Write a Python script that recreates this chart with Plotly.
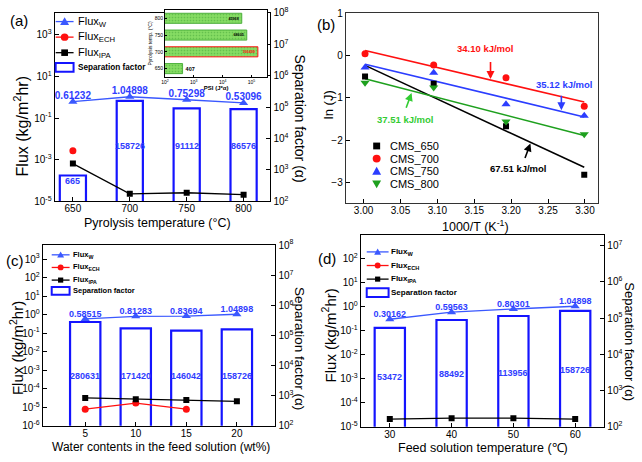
import numpy as np
import plotly.graph_objects as go

# ---------------- data ----------------
# (a) pyrolysis temperature
pyro_temp = [650, 700, 750, 800]
a_flux_w = [0.61232, 1.04898, 0.75298, 0.53096]
a_flux_ech = [2.7e-3, None, None, None]
a_flux_ipa = [6.5e-4, 2.3e-5, 2.6e-5, 2.1e-5]
a_sep = [665, 158726, 91112, 86576]
# inset of (a): PSI
psi_temp = ["650", "700", "750", "800"]
psi_vals = [407, 166499, 68605, 45968]
# (b) Arrhenius plot
inv_T = [3.002, 3.095, 3.193, 3.299]
lnJ_650 = [-0.49, -0.66, -1.67, -2.82]
lnJ_700 = [0.048, -0.219, -0.518, -1.199]
lnJ_750 = [-0.28, -0.40, -1.15, -1.42]
lnJ_800 = [-0.64, -0.75, -1.56, -1.86]
ea_650, ea_700, ea_750, ea_800 = "67.51 kJ/mol", "34.10 kJ/mol", "35.12 kJ/mol", "37.51 kJ/mol"
# (c) water content
water = [5, 10, 15, 20]
c_flux_w = [0.58515, 0.81283, 0.83694, 1.04898]
c_flux_ech = [8e-6, 1.7e-5, 8e-6, None]
c_flux_ipa = [3.2e-5, 2.7e-5, 2.5e-5, 2.1e-5]
c_sep = [280631, 171420, 146042, 158726]
# (d) feed temperature
feed_temp = [30, 40, 50, 60]
d_flux_w = [0.30162, 0.59563, 0.80301, 1.04898]
d_flux_ech = [None, None, None, None]
d_flux_ipa = [2.1e-5, 2.3e-5, 2.3e-5, 2.1e-5]
d_sep = [53472, 88492, 113956, 158726]

# ---------------- style ----------------
FONT = "Liberation Sans, Arial, sans-serif"
W, H = 642, 462
def px(x): return x / W
def py(y): return 1 - y / H

BLUE_BAR = "#1414ff"
BLUE_LINE = "#3a58ff"
BLUE_TXT = "#2f3dff"
BLUE_B = "#2b3dff"
RED = "#ff1010"
GREEN = "#1ea01e"
GREEN_TXT = "#33cc33"

def sup(n):
    return "10<sup>%d</sup>" % n

fig = go.Figure()
annotations = []
shapes = []

def flux_panel(x, w, ech, ipa, sep, xa, ya_sep, ya_flux, barwidth, wfont):
    fig.add_bar(x=x, y=sep, xaxis=xa, yaxis=ya_sep, width=barwidth,
                marker=dict(color="white", line=dict(color=BLUE_BAR, width=2.2)),
                name="Separation factor", showlegend=False)
    fig.add_scatter(x=x, y=w, xaxis=xa, yaxis=ya_flux, mode="lines+markers",
                    line=dict(color=BLUE_LINE, width=1.3),
                    marker=dict(symbol="triangle-up", size=8, color=BLUE_LINE),
                    name="Flux<sub>W</sub>", showlegend=False)
    fig.add_scatter(x=x, y=ech, xaxis=xa, yaxis=ya_flux, mode="lines+markers",
                    line=dict(color=RED, width=1.3),
                    marker=dict(symbol="circle", size=7, color=RED),
                    name="Flux<sub>ECH</sub>", showlegend=False)
    fig.add_scatter(x=x, y=ipa, xaxis=xa, yaxis=ya_flux, mode="lines+markers",
                    line=dict(color="black", width=1.3),
                    marker=dict(symbol="square", size=6, color="black"),
                    name="Flux<sub>IPA</sub>", showlegend=False)
    fig.add_scatter(x=x, y=w, xaxis=xa, yaxis=ya_flux, mode="text",
                    text=[str(v) for v in w], textposition="top center",
                    textfont=dict(color=BLUE_TXT, size=wfont, family=FONT, weight="bold"),
                    showlegend=False, cliponaxis=False)

flux_panel(pyro_temp, a_flux_w, a_flux_ech, a_flux_ipa, a_sep, "x", "y", "y2", 23, 10)
flux_panel(water, c_flux_w, c_flux_ech, c_flux_ipa, c_sep, "x3", "y4", "y5", 3.0, 9)
flux_panel(feed_temp, d_flux_w, d_flux_ech, d_flux_ipa, d_sep, "x4", "y6", "y7", 4.9, 9)

# bar value labels
for xs, vals, xa, ya, yv in [(pyro_temp, a_sep, "x", "y", [2.65, 3.76, 3.76, 3.76]),
                             (water, c_sep, "x3", "y4", [3.65] * 4),
                             (feed_temp, d_sep, "x4", "y6", [3.38, 3.45, 3.48, 3.56])]:
    for xv, v, yy in zip(xs, vals, yv):
        annotations.append(dict(x=xv, y=yy, xref=xa, yref=ya, text=str(v), showarrow=False,
                                font=dict(color=BLUE_TXT, size=9, family=FONT, weight="bold")))

# inset PSI bars
fig.add_bar(x=psi_vals, y=psi_temp, orientation="h", xaxis="x5", yaxis="y8", width=0.6,
            marker=dict(color="#86dc63",
                        pattern=dict(shape=".", fgcolor="#3f9f35", size=3, solidity=0.25),
                        line=dict(color=["#4caf3c", RED, "#4caf3c", "#4caf3c"], width=1)),
            text=[str(v) for v in psi_vals], textposition=["outside", "inside", "inside", "inside"],
            insidetextanchor="end", textangle=0,
            textfont=dict(size=5.5, color=["black", RED, "black", "black"], family=FONT, weight="bold"),
            showlegend=False, cliponaxis=False, name="PSI")

# (b) Arrhenius
series_b = [("CMS_650", lnJ_650, "black", "square", 6),
            ("CMS_700", lnJ_700, RED, "circle", 7),
            ("CMS_750", lnJ_750, BLUE_B, "triangle-up", 8),
            ("CMS_800", lnJ_800, GREEN, "triangle-down", 8)]
xfit = np.array([min(inv_T), max(inv_T)])
for name, ys, col, sym, sz in series_b:
    k, b0 = np.polyfit(inv_T, ys, 1)
    fig.add_scatter(x=xfit, y=k * xfit + b0, xaxis="x2", yaxis="y3", mode="lines",
                    line=dict(color=col, width=1.6), showlegend=False, name=name + " fit")
for name, ys, col, sym, sz in series_b:
    fig.add_scatter(x=inv_T, y=ys, xaxis="x2", yaxis="y3", mode="markers",
                    marker=dict(symbol=sym, size=sz, color=col), name=name, showlegend=False)

# Ea labels and arrows (b)
ea_specs = [(ea_700, RED, 3.165, 0.18, (3.172, -0.11), (3.172, -0.55)),
            (ea_750, BLUE_B, 3.272, -0.68, (3.268, -0.91), (3.268, -1.29)),
            (ea_800, GREEN_TXT, 3.057, -1.52, (3.057, -1.27), (3.065, -0.88)),
            (ea_650, "black", 3.210, -2.67, (3.218, -2.46), (3.226, -2.08))]
for txt, col, tx, ty, tail, head in ea_specs:
    annotations.append(dict(x=tx, y=ty, xref="x2", yref="y3", text=txt, showarrow=False,
                            font=dict(color=col, size=9.5, family=FONT, weight="bold")))
    annotations.append(dict(x=head[0], y=head[1], ax=tail[0], ay=tail[1], xref="x2", yref="y3",
                            axref="x2", ayref="y3", text="", showarrow=True, arrowhead=2,
                            arrowsize=1, arrowwidth=1.6, arrowcolor=col))

# ---------------- legend keys (drawn as layout decorations) ----------------
def key_marker(kind, cx, cy, s, col):
    if kind == "triangle-up":
        path = "M %f,%f L %f,%f L %f,%f Z" % (px(cx - s / 2), py(cy + s * 0.4), px(cx + s / 2), py(cy + s * 0.4),
                                               px(cx), py(cy - s * 0.5))
        shapes.append(dict(type="path", xref="paper", yref="paper", path=path, fillcolor=col, line=dict(width=0)))
    elif kind == "triangle-down":
        path = "M %f,%f L %f,%f L %f,%f Z" % (px(cx - s / 2), py(cy - s * 0.4), px(cx + s / 2), py(cy - s * 0.4),
                                               px(cx), py(cy + s * 0.5))
        shapes.append(dict(type="path", xref="paper", yref="paper", path=path, fillcolor=col, line=dict(width=0)))
    elif kind == "circle":
        shapes.append(dict(type="circle", xref="paper", yref="paper", x0=px(cx - s / 2), x1=px(cx + s / 2),
                           y0=py(cy + s / 2), y1=py(cy - s / 2), fillcolor=col, line=dict(width=0)))
    elif kind == "square":
        shapes.append(dict(type="rect", xref="paper", yref="paper", x0=px(cx - s / 2), x1=px(cx + s / 2),
                           y0=py(cy + s / 2), y1=py(cy - s / 2), fillcolor=col, line=dict(width=0)))

def key_text(x, y, text, size, bold=False, col="black"):
    annotations.append(dict(x=px(x), y=py(y), xref="paper", yref="paper", text=text, showarrow=False,
                            xanchor="left", yanchor="middle",
                            font=dict(size=size, family=FONT, color=col, weight="bold" if bold else "normal")))

flux_keys = [("Flux<sub>W</sub>", BLUE_LINE, "triangle-up"),
             ("Flux<sub>ECH</sub>", RED, "circle"),
             ("Flux<sub>IPA</sub>", "black", "square")]
msz = {"triangle-up": 1.0, "circle": 0.85, "square": 0.75}

def flux_legend(x0, x1, xt, rows, fsize, sfsize, bold, ms, rect_h):
    for (lab, col, sym), yy in zip(flux_keys, rows[:3]):
        shapes.append(dict(type="line", xref="paper", yref="paper", x0=px(x0), x1=px(x1),
                           y0=py(yy), y1=py(yy), line=dict(color=col, width=1.3)))
        key_marker(sym, (x0 + x1) / 2, yy, ms * msz[sym], col)
        key_text(xt, yy, lab, fsize, bold)
    yy = rows[3]
    shapes.append(dict(type="rect", xref="paper", yref="paper", x0=px(x0), x1=px(x1),
                       y0=py(yy + rect_h / 2), y1=py(yy - rect_h / 2),
                       line=dict(color=BLUE_BAR, width=2), fillcolor="rgba(0,0,0,0)"))
    key_text(xt, yy, "Separation factor", sfsize, True)

flux_legend(52, 70, 72, [15, 31, 47, 62], 11, 8.2, False, 9, 9)
flux_legend(48, 66, 67, [255, 268, 281, 292], 7.5, 7.5, True, 7, 8)
flux_legend(365, 387, 387, [252, 266, 280, 294], 8, 8, True, 7, 9)

for (name, ys, col, sym, sz), yy in zip(series_b, [143, 156, 169, 182]):
    key_marker(sym, 375, yy, sz + 1, col)
    key_text(386, yy, name, 11)

# ---------------- axes ----------------
tickfont = dict(size=10, family=FONT, color="black")
common = dict(showline=True, linecolor="black", linewidth=1.2, ticks="inside", ticklen=4,
              tickcolor="black", tickfont=tickfont, showgrid=False, zeroline=False)
xcommon = dict(common, ticklabelstandoff=-2, mirror=True)

def logax(lo, hi, dom, side, overlay=None, anchor=None, step=1):
    vals = list(range(int(np.ceil(lo)), int(np.floor(hi)) + 1, step))
    d = dict(common, type="log", range=[lo, hi], tickvals=[10 ** v for v in vals],
             ticktext=[sup(v) for v in vals], side=side, anchor=anchor)
    if overlay:
        d["overlaying"] = overlay
    else:
        d["domain"] = dom
    return d

layout = dict(
    width=W, height=H, margin=dict(l=0, r=0, t=0, b=0), showlegend=False,
    paper_bgcolor="white", plot_bgcolor="white", font=dict(family=FONT, color="black"),
    barmode="overlay",
    # (a)
    xaxis=dict(xcommon, domain=[px(51), px(268)], anchor="y", range=[634, 823.5],
               tickvals=pyro_temp),
    yaxis=logax(2, 8, [py(200), py(6)], "right", anchor="x"),
    yaxis2=logax(-5, 4.05, None, "left", overlay="y", anchor="x", step=2),
    # (b)
    xaxis2=dict(xcommon, domain=[px(344), px(598)], anchor="y3", range=[2.976, 3.318],
                tickvals=[3.00, 3.05, 3.10, 3.15, 3.20, 3.25, 3.30], tickformat=".2f",
                linecolor="#333"),
    yaxis3=dict(common, domain=[py(202), py(6)], anchor="x2", range=[-3.5, 1.02],
                tickvals=[-3, -2, -1, 0, 1], mirror=True, linecolor="#333"),
    # (c)
    xaxis3=dict(xcommon, domain=[px(39), px(273)], anchor="y4", range=[0.8, 23.8],
                tickvals=water),
    yaxis4=logax(2, 8, [py(431), py(245)], "right", anchor="x3"),
    yaxis5=logax(-6, 3.75, None, "left", overlay="y4", anchor="x3"),
    # (d)
    xaxis4=dict(xcommon, domain=[px(359), px(604)], anchor="y6", range=[25.3, 64.7],
                tickvals=feed_temp),
    yaxis6=logax(2, 7.28, [py(432), py(235)], "right", anchor="x4"),
    yaxis7=logax(-5, 2.97, None, "left", overlay="y6", anchor="x4"),
    # inset
    xaxis5=dict(common, domain=[px(162), px(265)], anchor="y8", type="log", range=[2, 5.55],
                tickvals=[1e2, 1e3, 1e4, 1e5], ticktext=[sup(v) for v in (2, 3, 4, 5)],
                tickfont=dict(size=5, family=FONT), ticklen=2, mirror=True, linewidth=1,
                title=dict(text="<b>PSI (J*α)</b>", font=dict(size=6, family=FONT), standoff=0)),
    yaxis8=dict(common, domain=[py(72), py(3)], anchor="x5", type="category",
                categoryorder="array", categoryarray=psi_temp,
                tickfont=dict(size=5, family=FONT), ticklen=2, mirror=True, linewidth=1,
                title=dict(text="Pyrolysis temp. (°C)", font=dict(size=5, family=FONT), standoff=1)),
)

def title_ann(x, y, text, size, angle=0):
    return dict(x=px(x), y=py(y), xref="paper", yref="paper", text=text, showarrow=False,
                textangle=angle, font=dict(size=size, family=FONT, color="black"),
                xanchor="center", yanchor="middle")

flux_title = "Flux (kg/m<sup>2</sup>hr)"
sep_title = "Separation factor (α)"
annotations += [
    title_ann(154, 222, "Pyrolysis temperature (°C)", 12.5),
    title_ann(17, 123, flux_title, 16, -90),
    title_ann(298, 115, sep_title, 14, 90),
    title_ann(474, 225, "1000/T (K<sup>-1</sup>)", 12.5),
    title_ann(326, 100, "ln (J)", 13, -90),
    title_ann(158, 453, "Water contents in the feed solution (wt%)", 12),
    title_ann(12, 351, flux_title, 15, -90),
    title_ann(298, 351, sep_title, 13.5, 90),
    title_ann(482, 454, "Feed solution temperature (℃)", 12.5),
    title_ann(327, 338, flux_title, 15, -90),
    title_ann(630, 344, sep_title, 13, 90),
    title_ann(15, 14, "(a)", 15),
    title_ann(324, 18, "(b)", 15),
    title_ann(11, 261, "(c)", 15),
    title_ann(325, 259, "(d)", 15),
]
layout["annotations"] = annotations
layout["shapes"] = shapes
fig.update_layout(**layout)
fig.write_html("out.html", config={"displayModeBar": False},
               post_script="document.body.style.margin='0';")
